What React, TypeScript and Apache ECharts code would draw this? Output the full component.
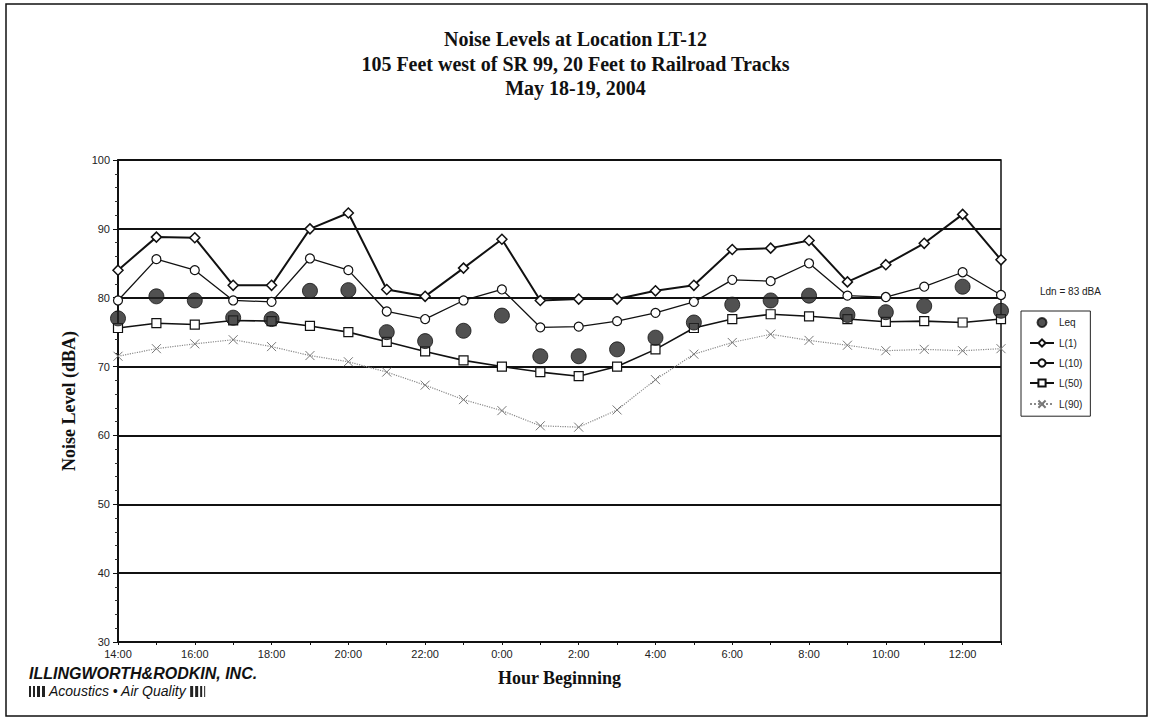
import React, { useEffect, useRef } from "react";
import * as echarts from "echarts";

const hours = [
  "14:00", "15:00", "16:00", "17:00", "18:00", "19:00", "20:00", "21:00", "22:00", "23:00",
  "0:00", "1:00", "2:00", "3:00", "4:00", "5:00", "6:00", "7:00", "8:00", "9:00",
  "10:00", "11:00", "12:00", "13:00",
];
const leq = [77.0, 80.2, 79.6, 77.1, 76.9, 81.0, 81.1, 75.0, 73.7, 75.2, 77.4, 71.5, 71.5, 72.5, 74.2, 76.4, 79.0, 79.6, 80.3, 77.5, 77.9, 78.8, 81.6, 78.1];
const l1 = [84.0, 88.8, 88.7, 81.8, 81.8, 90.0, 92.3, 81.2, 80.2, 84.3, 88.5, 79.6, 79.8, 79.8, 81.0, 81.8, 87.0, 87.2, 88.3, 82.3, 84.8, 87.9, 92.1, 85.5];
const l10 = [79.6, 85.6, 84.0, 79.6, 79.4, 85.7, 84.0, 78.0, 76.9, 79.6, 81.2, 75.7, 75.8, 76.6, 77.8, 79.4, 82.6, 82.4, 85.0, 80.3, 80.1, 81.6, 83.7, 80.4];
const l50 = [75.6, 76.3, 76.1, 76.7, 76.6, 75.9, 75.0, 73.6, 72.2, 70.9, 70.0, 69.2, 68.6, 70.0, 72.5, 75.6, 76.9, 77.6, 77.3, 76.9, 76.5, 76.6, 76.4, 76.9];
const l90 = [71.5, 72.6, 73.3, 73.9, 72.9, 71.6, 70.7, 69.2, 67.3, 65.2, 63.6, 61.4, 61.2, 63.7, 68.1, 71.8, 73.5, 74.7, 73.8, 73.1, 72.3, 72.5, 72.3, 72.6];

const titleLines = [
  "Noise Levels at Location LT-12",
  "105 Feet west of SR 99, 20 Feet to Railroad Tracks",
  "May 18-19, 2004",
];
const ldnText = "Ldn = 83 dBA";
const logoName = "ILLINGWORTH&RODKIN, INC.";
const logoTag = "Acoustics • Air Quality";

const SERIF = "'Liberation Serif', 'Times New Roman', serif";
const SANS = "'Liberation Sans', Arial, sans-serif";
const X_SYMBOL = "path://M0,0L10,10M10,0L0,10";

function measure(text: string, font: string): number {
  const c = document.createElement("canvas").getContext("2d");
  if (!c) return text.length * 7;
  c.font = font;
  return c.measureText(text).width;
}

export default function App() {
  const ref = useRef<HTMLDivElement>(null);
  useEffect(() => {
    if (!ref.current) return;
    const chart = echarts.init(ref.current, null, { renderer: "svg" });
    const tagFont = `italic 14px ${SANS}`;
    const tagW = measure(logoTag, tagFont);
    const barX = 20 + tagW + 4;
    const option: any = {
      animation: false,
      backgroundColor: "#ffffff",
      title: {
        text: titleLines.join("\n"),
        left: "center",
        top: 27,
        padding: 0,
        textStyle: {
          fontFamily: SERIF,
          fontWeight: "bold",
          fontSize: 20,
          lineHeight: 24.5,
          color: "#111",
        },
      },
      grid: {
        left: 118,
        right: 150,
        top: 160,
        bottom: 84,
        show: true,
        borderColor: "#111",
        borderWidth: 1.5,
      },
      legend: {
        orient: "vertical",
        left: 1021,
        top: 311,
        itemGap: 10,
        itemWidth: 24,
        itemHeight: 9,
        padding: [6, 8, 6, 8],
        borderColor: "#222",
        borderWidth: 1,
        textStyle: { fontFamily: SANS, fontSize: 10, color: "#222" },
        data: ["Leq", "L(1)", "L(10)", "L(50)", "L(90)"],
      },
      xAxis: {
        type: "category",
        data: hours,
        boundaryGap: false,
        name: "Hour Beginning",
        nameLocation: "middle",
        nameGap: 27,
        nameTextStyle: { fontFamily: SERIF, fontWeight: "bold", fontSize: 18, color: "#111" },
        axisLine: { lineStyle: { color: "#111", width: 2 } },
        axisTick: { show: true, interval: 0, inside: false, length: 3, lineStyle: { color: "#111" } },
        axisLabel: { interval: 1, fontFamily: SANS, fontSize: 11, color: "#222", margin: 6 },
        splitLine: { show: false },
      },
      yAxis: {
        type: "value",
        min: 30,
        max: 100,
        interval: 10,
        name: "Noise Level (dBA)",
        nameLocation: "middle",
        nameGap: 40,
        nameTextStyle: { fontFamily: SERIF, fontWeight: "bold", fontSize: 18, color: "#111" },
        axisLine: { show: true, lineStyle: { color: "#111", width: 2 } },
        axisTick: { show: true, length: 5, lineStyle: { color: "#111" } },
        minorTick: { show: true, splitNumber: 5, length: 3, lineStyle: { color: "#333" } },
        axisLabel: { fontFamily: SANS, fontSize: 11, color: "#222", margin: 8 },
        splitLine: { show: true, lineStyle: { color: "#111", width: 1.8 } },
      },
      series: [
        {
          name: "Leq",
          type: "scatter",
          data: leq,
          symbol: "circle",
          symbolSize: 15,
          itemStyle: { color: "#262626", borderColor: "#111", borderWidth: 1 },
          z: 5,
        },
        {
          name: "L(1)",
          type: "line",
          data: l1,
          symbol: "diamond",
          symbolSize: 10,
          showAllSymbol: true,
          lineStyle: { color: "#111", width: 2 },
          itemStyle: { color: "#ffffff", borderColor: "#111", borderWidth: 1.5 },
          z: 4,
        },
        {
          name: "L(10)",
          type: "line",
          data: l10,
          symbol: "circle",
          symbolSize: 9,
          showAllSymbol: true,
          lineStyle: { color: "#111", width: 1.3 },
          itemStyle: { color: "#ffffff", borderColor: "#111", borderWidth: 1.2 },
          z: 4,
        },
        {
          name: "L(50)",
          type: "line",
          data: l50,
          symbol: "rect",
          symbolSize: 9,
          showAllSymbol: true,
          lineStyle: { color: "#111", width: 1.6 },
          itemStyle: { color: "#ffffff", borderColor: "#111", borderWidth: 1.2 },
          z: 4,
        },
        {
          name: "L(90)",
          type: "line",
          data: l90,
          symbol: X_SYMBOL,
          symbolSize: 9,
          showAllSymbol: true,
          lineStyle: { color: "#8a8a8a", width: 1.2, type: "dotted" },
          itemStyle: { color: "none", borderColor: "#777", borderWidth: 1 },
          z: 3,
        },
      ],
      graphic: [
        {
          type: "rect",
          shape: { x: 6, y: 4, width: 1141, height: 712 },
          style: { fill: "none", stroke: "#111", lineWidth: 1.5 },
          silent: true,
          z: 0,
        },
        {
          type: "text",
          left: 1040,
          top: 286,
          style: { text: ldnText, font: `10px ${SANS}`, fill: "#222" },
        },
        {
          type: "text",
          left: 29,
          top: 665,
          style: {
            text: logoName,
            font: `italic bold 16px ${SANS}`,
            fill: "#111",
          },
        },
        {
          type: "group",
          left: 29,
          top: 684,
          children: [
            { type: "rect", shape: { x: 0, y: 2, width: 2, height: 11 }, style: { fill: "#222" } },
            { type: "rect", shape: { x: 4, y: 2, width: 2, height: 11 }, style: { fill: "#222" } },
            { type: "rect", shape: { x: 8, y: 2, width: 3, height: 11 }, style: { fill: "#222" } },
            { type: "rect", shape: { x: 13, y: 2, width: 3, height: 11 }, style: { fill: "#222" } },
            {
              type: "text",
              x: 20,
              y: 0,
              style: { text: logoTag, font: tagFont, fill: "#111" },
            },
            { type: "rect", shape: { x: barX, y: 2, width: 3, height: 11 }, style: { fill: "#222" } },
            { type: "rect", shape: { x: barX + 5, y: 2, width: 3, height: 11 }, style: { fill: "#222" } },
            { type: "rect", shape: { x: barX + 10, y: 2, width: 2, height: 11 }, style: { fill: "#222" } },
            { type: "rect", shape: { x: barX + 14, y: 2, width: 1, height: 11 }, style: { fill: "#222" } },
          ],
        },
      ],
    };
    chart.setOption(option);
    return () => chart.dispose();
  }, []);
  return (
    <div
      ref={ref}
      style={{ position: "fixed", left: 0, top: 0, width: 1151, height: 726, background: "#fff" }}
    />
  );
}
